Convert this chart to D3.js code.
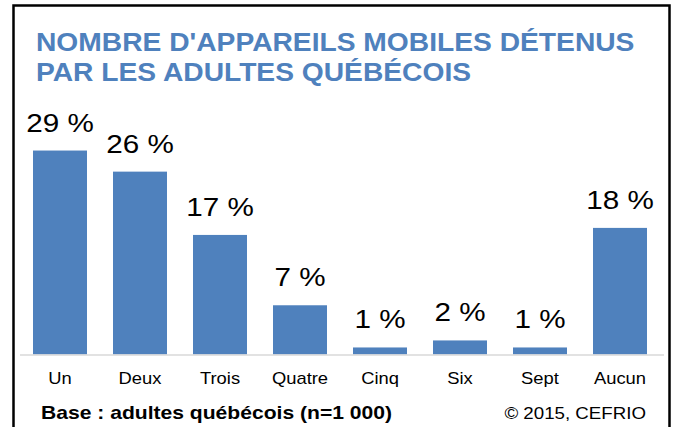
<!DOCTYPE html>
<html>
<head>
<meta charset="utf-8">
<script src="https://cdn.jsdelivr.net/npm/d3@7.9.0/dist/d3.min.js"></script>
<style>
  html, body { margin: 0; padding: 0; background: #fff; }
  svg { display: block; font-family: "Liberation Sans", Arial, sans-serif; }
</style>
</head>
<body>
<svg id="chart" width="674" height="427"></svg>
<script>
// data
const categories = ['Un', 'Deux', 'Trois', 'Quatre', 'Cinq', 'Six', 'Sept', 'Aucun'];
const values = [29, 26, 17, 7, 1, 2, 1, 18];
const titleLines = ["NOMBRE D'APPAREILS MOBILES DÉTENUS", 'PAR LES ADULTES QUÉBÉCOIS'];
const footLeft = 'Base : adultes québécois (n=1 000)';
const footRight = '© 2015, CEFRIO';

const svg = d3.select('#chart');
const blue = '#4F81BD';

// the original picture is a bit wider than tall, so text is stretched sideways
function stretch(sel, k) {
  sel.each(function () {
    const w = this.getComputedTextLength();
    d3.select(this).attr('textLength', w * k).attr('lengthAdjust', 'spacingAndGlyphs');
  });
}

// frame (bottom edge is cut off in the original)
svg.append('rect')
  .attr('x', 13.5).attr('y', 5.5)
  .attr('width', 656).attr('height', 440)
  .attr('fill', 'none')
  .attr('stroke', '#000')
  .attr('stroke-width', 2.5);

// title
svg.append('g').selectAll('text')
  .data(titleLines)
  .join('text')
  .attr('x', 36)
  .attr('y', (d, i) => 51 + i * 30)
  .attr('fill', blue)
  .attr('font-size', 25)
  .attr('font-weight', 'bold')
  .text(d => d)
  .call(stretch, 1.128);

const x = d3.scaleBand()
  .domain(categories)
  .range([20, 660])
  .paddingInner(0.325)
  .paddingOuter(0.1625);

const y = d3.scaleLinear()
  .domain([0, 30])
  .range([354.5, 143.5]);

// bars
svg.append('g').selectAll('rect')
  .data(values)
  .join('rect')
  .attr('x', (d, i) => x(categories[i]))
  .attr('y', d => y(d))
  .attr('width', x.bandwidth())
  .attr('height', d => y(0) - y(d))
  .attr('fill', blue);

// value labels
svg.append('g').selectAll('text')
  .data(values)
  .join('text')
  .attr('x', (d, i) => x(categories[i]) + x.bandwidth() / 2)
  .attr('y', d => y(d) - 19)
  .attr('text-anchor', 'middle')
  .attr('font-size', 26)
  .attr('fill', '#000')
  .text(d => d + ' %')
  .call(stretch, 1.14);

// x axis
const xAxis = svg.append('g')
  .attr('transform', `translate(0,${y(0)})`)
  .call(d3.axisBottom(x).tickSize(0).tickPadding(17));
xAxis.select('.domain')
  .attr('d', 'M20,0.5H664')
  .attr('stroke', '#D9D9D9')
  .attr('stroke-width', 1.5);
xAxis.selectAll('text')
  .attr('font-size', 17)
  .attr('font-family', '"Liberation Sans", Arial, sans-serif')
  .attr('fill', '#000')
  .call(stretch, 1.08);

// footer
svg.append('text')
  .attr('x', 41).attr('y', 419)
  .attr('font-size', 18.5)
  .attr('font-weight', 'bold')
  .attr('fill', '#000')
  .text(footLeft)
  .each(function () {
    d3.select(this).attr('textLength', 351).attr('lengthAdjust', 'spacingAndGlyphs');
  });

svg.append('text')
  .attr('x', 646).attr('y', 419)
  .attr('text-anchor', 'end')
  .attr('font-size', 17)
  .attr('fill', '#000')
  .text(footRight)
  .call(stretch, 1.1);
</script>
</body>
</html>
